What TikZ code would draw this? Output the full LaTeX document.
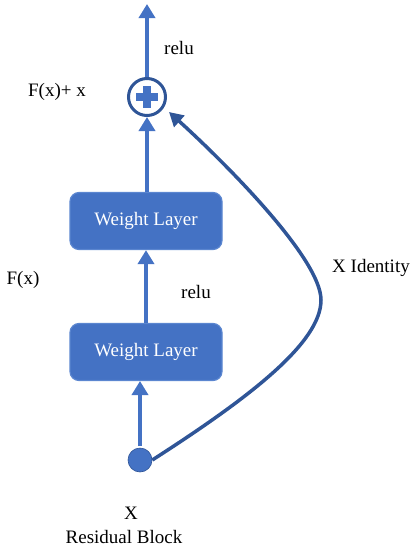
\documentclass[tikz,border=0pt]{standalone}
\usepackage{fontspec}
\setmainfont{Liberation Serif}
\usetikzlibrary{arrows.meta}
\definecolor{boxblue}{HTML}{4472C4}
\definecolor{darkblue}{HTML}{2F5597}
\definecolor{edgeblue}{HTML}{5B86D0}
\tikzset{
  x=1pt,y=-1pt,
  layerbox/.style={draw=edgeblue,line width=1.2pt,fill=boxblue,rounded corners=9pt,minimum width=152pt,minimum height=57pt,text=white,font=\fontsize{19}{22}\selectfont,inner sep=0pt},
  lbl/.style={font=\fontsize{19}{22}\selectfont,inner sep=0pt},
  flow/.style={draw=boxblue,line width=4pt,-{Triangle[width=16pt,length=14pt]}},
  skip/.style={draw=darkblue,line width=3.5pt,-{Triangle[width=15pt,length=14pt]}},
}
\begin{document}
\begin{tikzpicture}
\useasboundingbox (0,0) rectangle (415,550);
\node[layerbox] (up) at (146,221) {Weight Layer};
\node[layerbox] (low) at (146,352) {Weight Layer};
\node[circle,draw=darkblue,line width=3pt,minimum size=37pt,inner sep=0pt] (add) at (147,97) {};
\fill[boxblue] (143,86) rectangle (151,108);
\fill[boxblue] (136,93) rectangle (158,101);
\node[circle,fill=boxblue,draw=darkblue,line width=0.6pt,minimum size=24pt,inner sep=0pt] (x) at (140,460) {};
\coordinate (top) at (147,4);
\coordinate (xtop) at (140,446);
\coordinate (lowbot) at (140,381);
\coordinate (rt) at (321,300);
\coordinate (cin) at (169,112);
\draw[flow] (add.north) -- (top);
\draw[flow] (up.north -| add) -- (add.south);
\draw[flow] (low.north) -- (up.south);
\draw[flow] (xtop) -- (lowbot);
\draw[skip] (x.east) .. controls (252,396) and (321,342) .. (rt) .. controls (321,258) and (222,160) .. (cin);
\node[lbl] (r1) at (179,48) {relu};
\node[lbl] (r2) at (196,292) {relu};
\node[lbl] (fxx) at (57,92) {F(x)+ x};
\node[lbl] (fx) at (23,280) {F(x)};
\node[lbl] (xid) at (371,268) {X Identity};
\node[lbl] (xl) at (131,513) {X};
\node[lbl] (rb) at (124,537) {Residual Block};
\end{tikzpicture}
\end{document}
